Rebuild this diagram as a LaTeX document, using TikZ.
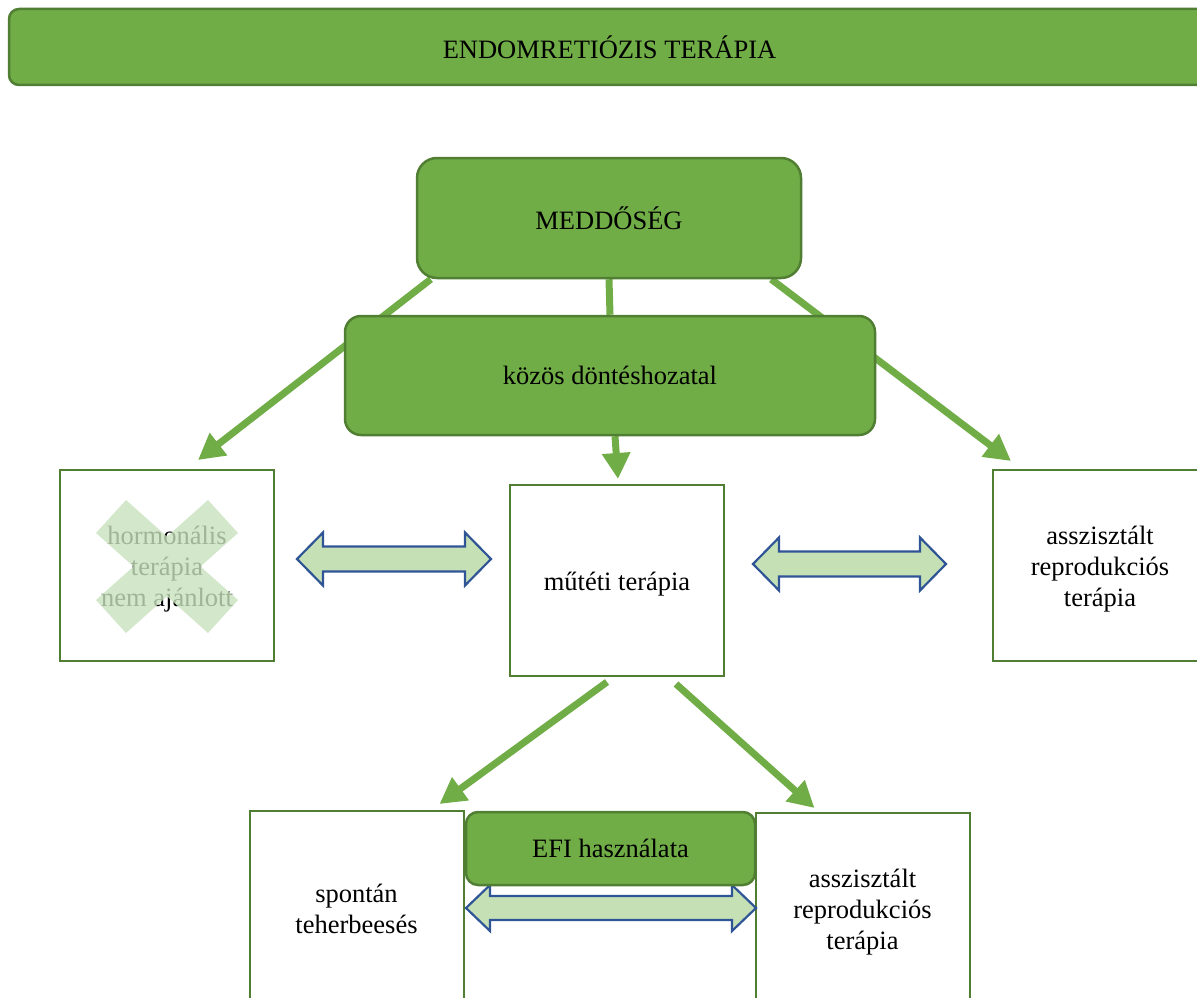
\documentclass[tikz,border=0pt]{standalone}
\usepackage{fontspec}
\setmainfont{Liberation Serif}
\usetikzlibrary{arrows.meta}
\pgfdeclarelayer{background}
\pgfsetlayers{background,main}
\definecolor{gfill}{HTML}{70AD47}
\definecolor{gline}{HTML}{507E32}
\definecolor{lgreen}{HTML}{C5E0B4}
\definecolor{dblue}{HTML}{2F5597}
\definecolor{xgreen}{RGB}{200,225,190}
\tikzset{
  txt/.style={font=\fontsize{26.5}{31}\selectfont, align=center, text=black},
  gbox/.style={txt, draw=gline, line width=2.5pt, fill=gfill, rounded corners=20pt, inner sep=0pt},
  obox/.style={draw=gline, line width=2pt, fill=white, inner sep=0pt, minimum width=214pt, minimum height=191pt},
  otext/.style={label={[txt, yshift=-4pt]center:#1}},
  garrow/.style={draw=gfill, line width=7pt, -{Triangle[length=26pt,width=27pt]}},
  gline/.style={draw=gfill, line width=7pt},
  dbl/.style={draw=dblue, line width=2.2pt, fill=lgreen, line join=miter}
}
\begin{document}
\begin{tikzpicture}[x=1pt,y=-1pt]
\useasboundingbox (0,0) rectangle (1197,998);

% title
\node[gbox, rounded corners=10pt, minimum width=1201pt, minimum height=76pt] (title) at (609.5,47) {ENDOMRETIÓZIS TERÁPIA};

% main boxes
\node[gbox, minimum width=384pt, minimum height=120pt] (medd) at (609,218) {MEDDŐSÉG};
\node[gbox, rounded corners=16pt, minimum width=530pt, minimum height=119pt] (kozos) at (610,375.5) {közös döntéshozatal};

\node[obox, otext={hormonális\\terápia\\nem ajánlott}] (left) at (167,565.5) {};
\fill[xgreen, opacity=0.8] (126,500) -- (96,533) -- (208,633) -- (238,600) -- cycle
                           (96,600) -- (126,633) -- (238,533) -- (208,500) -- cycle;

\node[obox, otext={műtéti terápia}] (center) at (617,580.5) {};
\node[obox, otext={asszisztált\\reprodukciós\\terápia}] (right) at (1100,565.5) {};

\node[obox, label={[txt, yshift=-2pt]center:spontán\\teherbeesés}] (bl) at (356.5,906.5) {};
\node[obox, otext={asszisztált\\reprodukciós\\terápia}] (br) at (862.5,908.5) {};

% double arrows
\draw[dbl] (297,559) -- (323,532.5) -- (323,546.5) -- (465,546.5) -- (465,532.5) -- (491,559)
  -- (465,585.5) -- (465,571.5) -- (323,571.5) -- (323,585.5) -- cycle;
\draw[dbl] (753,564) -- (779,537.5) -- (779,551.5) -- (920,551.5) -- (920,537.5) -- (946,564)
  -- (920,590.5) -- (920,576.5) -- (779,576.5) -- (779,590.5) -- cycle;
\draw[dbl] (466,908) -- (490,885) -- (490,896) -- (732,896) -- (732,885) -- (756,908)
  -- (732,931) -- (732,920) -- (490,920) -- (490,931) -- cycle;

\node[gbox, rounded corners=12pt, minimum width=289pt, minimum height=73pt] (efi) at (610.5,848.5) {EFI használata};

% connectors
\begin{pgfonlayer}{background}
\draw[garrow] ([shift={(15,0)}]medd.south west) -- ([shift={(31,-9)}]left.north);
\draw[gline] (medd.south) -- (kozos.north);
\draw[garrow] ([shift={(-31,0)}]medd.south east) -- ([shift={(19,-8)}]right.north west);
\draw[garrow] ([shift={(5,0)}]kozos.south) -- ([shift={(1,-5)}]center.north);
\draw[garrow] ([shift={(-10,5)}]center.south) -- ([shift={(83,-6)}]bl.north);
\draw[garrow] ([shift={(59,7)}]center.south) -- ([shift={(60,-4)}]br.north west);
\end{pgfonlayer}
\end{tikzpicture}
\end{document}
